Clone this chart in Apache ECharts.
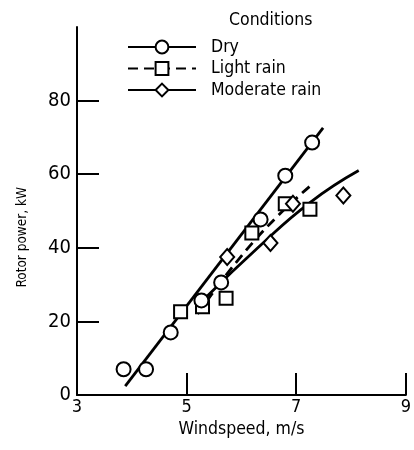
<!DOCTYPE html>
<html>
<head>
<meta charset="utf-8">
<script src="https://cdn.jsdelivr.net/npm/echarts@6/dist/echarts.min.js"></script>
<style>
  html, body { margin: 0; padding: 0; background: #fff; }
  #chart { width: 414px; height: 450px; }
</style>
</head>
<body>
<div id="chart"></div>
<script>
// measured points
var dryX = [3.85, 4.26, 4.71, 5.27, 5.63, 6.35, 6.8, 7.29]
var dryY = [7, 7, 17, 25.7, 30.6, 47.7, 59.6, 68.6]
var lightX = [4.89, 5.29, 5.72, 6.19, 6.8, 7.25]
var lightY = [22.6, 24, 26.3, 44, 52, 50.5]
var modX = [5.74, 6.53, 6.94, 7.86]
var modY = [37.5, 41.3, 52, 54.2]

// faired curves
var dryFitX = [3.88, 7.49]
var dryFitY = [2.4, 72.6]
var lightFitX = [5.2, 6.24, 7.27]
var lightFitY = [22, 42, 57]
var modFitX = [5.35, 6.3, 7.25, 8.14]
var modFitY = [26.5, 40, 52.3, 61]

var xTicks = [3, 5, 7, 9]
var yTicks = [0, 20, 40, 60, 80]

var font = '"DejaVu Sans Condensed", "Liberation Sans", sans-serif'

function pairs(xs, ys) {
  var out = []
  for (var i = 0; i < xs.length; i++) out.push([xs[i], ys[i]])
  return out
}

var mark = { color: '#fff', borderColor: '#000', borderWidth: 2, opacity: 1 }

var chart = echarts.init(document.getElementById('chart'))
var option = {
  animation: false,
  backgroundColor: '#fff',
  title: {
    text: 'Conditions',
    left: 224, top: 6,
    textStyle: { fontFamily: font, fontSize: 17.5, fontWeight: 'normal', color: '#000' }
  },
  // y axis title placed by hand so it sits a little below the middle, like the original
  graphic: [{
    type: 'text', left: 15, top: 187, rotation: Math.PI / 2,
    style: { text: 'Rotor power, kW', fontFamily: font, fontSize: 13.5, fill: '#000' }
  }],
  legend: {
    orient: 'vertical',
    left: 122, top: 33,
    itemWidth: 68, itemHeight: 16, itemGap: 3.5,
    data: ['Dry', 'Light rain', 'Moderate rain'],
    textStyle: { fontFamily: font, fontSize: 17.5, color: '#000', padding: [0, 0, 0, 10] }
  },
  grid: { left: 77, right: 4, top: 27, bottom: 55 },
  xAxis: {
    type: 'value', min: 3, max: 9, interval: 2,
    name: 'Windspeed, m/s', nameLocation: 'middle', nameGap: 19,
    nameTextStyle: { fontFamily: font, fontSize: 17.5, color: '#000' },
    axisLine: { lineStyle: { color: '#000', width: 2 } },
    axisTick: { inside: true, length: 22, lineStyle: { color: '#000', width: 2 } },
    axisLabel: { margin: 3, fontFamily: font, fontSize: 18, color: '#000' },
    splitLine: { show: false }
  },
  yAxis: {
    type: 'value', min: 0, max: 100, interval: 20,
    axisLine: { show: true, lineStyle: { color: '#000', width: 2 } },
    axisTick: { show: true, inside: true, length: 22, customValues: yTicks.slice(1), lineStyle: { color: '#000', width: 2 } },
    axisLabel: { margin: 6, fontFamily: font, fontSize: 20, color: '#000', customValues: yTicks },
    splitLine: { show: false }
  },
  series: [
    {
      name: 'Dry', type: 'line', data: pairs(dryFitX, dryFitY),
      showSymbol: false, symbol: 'circle', z: 2,
      lineStyle: { color: '#000', width: 2.8 }, itemStyle: mark
    },
    {
      name: 'Light rain', type: 'line', data: pairs(lightFitX, lightFitY),
      showSymbol: false, symbol: 'rect', smooth: true, z: 2,
      lineStyle: { color: '#000', width: 2.8, type: [10, 6] }, itemStyle: mark
    },
    {
      name: 'Moderate rain', type: 'line', data: pairs(modFitX, modFitY),
      showSymbol: false, symbol: 'diamond', smooth: true, z: 2,
      lineStyle: { color: '#000', width: 2.8 }, itemStyle: mark
    },
    {
      name: 'Light rain', type: 'scatter', data: pairs(lightX, lightY),
      symbol: 'rect', symbolSize: 13, z: 3, itemStyle: mark
    },
    {
      name: 'Moderate rain', type: 'scatter', data: pairs(modX, modY),
      symbol: 'diamond', symbolSize: [14, 16], z: 3, itemStyle: mark
    },
    {
      name: 'Dry', type: 'scatter', data: pairs(dryX, dryY),
      symbol: 'circle', symbolSize: 14, z: 4, itemStyle: mark
    }
  ]
}
chart.setOption(option)
</script>
</body>
</html>
